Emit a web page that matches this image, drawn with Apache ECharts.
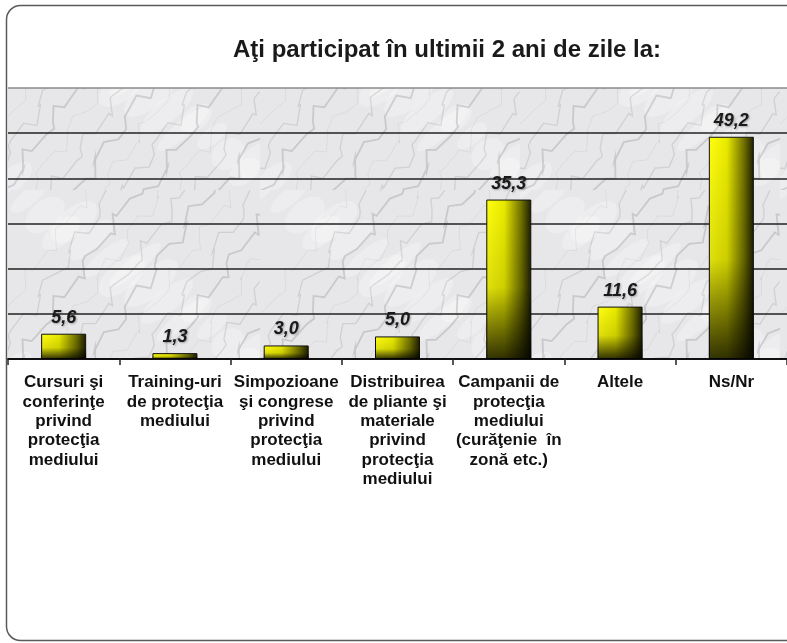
<!DOCTYPE html>
<html>
<head>
<meta charset="utf-8">
<script src="https://cdn.jsdelivr.net/npm/echarts@6/dist/echarts.min.js"></script>
<style>
  html, body { margin: 0; padding: 0; background: #fff; }
  #main { width: 787px; height: 643px; }
</style>
</head>
<body>
<div id="main"></div>
<script>
var titleText = 'Aţi participat în ultimii 2 ani de zile la:';
var categories = [
  'Cursuri şi\nconferinţe\nprivind\nprotecţia\nmediului',
  'Training-uri\nde protecţia\nmediului',
  'Simpozioane\nşi congrese\nprivind\nprotecţia\nmediului',
  'Distribuirea\nde pliante şi\nmateriale\nprivind\nprotecţia\nmediului',
  'Campanii de\nprotecţia\nmediului\n(curăţenie  în\nzonă etc.)',
  'Altele',
  'Ns/Nr'
];
var values = [5.6, 1.3, 3.0, 5.0, 35.3, 11.6, 49.2];

// marble-like texture for the plot background
function marble() {
  var c = document.createElement('canvas');
  c.width = 260; c.height = 190;
  var g = c.getContext('2d');
  g.fillStyle = '#e7e7e9';
  g.fillRect(0, 0, 260, 190);
  var i, k;
  for (i = 0; i < 18; i++) {
    g.fillStyle = 'rgba(255,255,255,0.28)';
    g.beginPath();
    g.ellipse((i * 61) % 260, (i * 43) % 190, 18 + (i % 4) * 5, 8 + (i % 3) * 3, -0.7, 0, Math.PI * 2);
    g.fill();
  }
  for (i = 0; i < 12; i++) {
    g.strokeStyle = 'rgba(105,105,115,' + (0.12 + (i % 3) * 0.06) + ')';
    g.lineWidth = 0.8 + (i % 3) * 0.5;
    g.beginPath();
    var x0 = i * 24 - 50, y0 = 200;
    g.moveTo(x0, y0);
    for (k = 1; k <= 24; k++) {
      var t = k / 24;
      g.lineTo(x0 + t * 150 + Math.sin(k * 1.3 + i * 2.1) * 7, y0 - t * 215 + Math.cos(k * 2.7 + i) * 6);
    }
    g.stroke();
  }
  return c;
}

var chart = echarts.init(document.getElementById('main'), null, { renderer: 'canvas' });
var option = {
  backgroundColor: '#ffffff',
  animation: false,
  title: {
    text: titleText,
    left: 228,
    top: 33,
    textStyle: {
      fontFamily: 'Liberation Sans, Arial, sans-serif',
      fontSize: 24,
      fontWeight: 'bold',
      color: '#1a1a1a'
    }
  },
  grid: {
    left: 8,
    top: 88,
    width: 788,
    bottom: 284,
    show: true,
    borderWidth: 0,
    backgroundColor: { image: marble(), repeat: 'repeat' }
  },
  xAxis: {
    type: 'category',
    data: categories,
    axisLine: { lineStyle: { color: '#111', width: 2 } },
    axisTick: { show: true, length: 6, lineStyle: { color: '#222', width: 1.5 } },
    axisLabel: {
      interval: 0,
      margin: 14,
      fontFamily: 'Liberation Sans, Arial, sans-serif',
      fontWeight: 'bold',
      fontSize: 17,
      lineHeight: 19.3,
      color: '#111'
    }
  },
  yAxis: {
    type: 'value',
    min: 0,
    max: 60,
    interval: 10,
    axisLine: { show: false },
    axisTick: { show: false },
    axisLabel: { show: false },
    splitLine: {
      lineStyle: {
        color: ['#222', '#222', '#222', '#222', '#222', '#222', '#8a8a8a'],
        width: 1.5
      }
    }
  },
  series: [{
    type: 'bar',
    data: values,
    barWidth: 45,
    itemStyle: {
      borderColor: '#111',
      borderWidth: 1,
      color: {
        type: 'linear', x: 0, y: 0, x2: 1, y2: 0,
        colorStops: [
          { offset: 0, color: '#ffff10' },
          { offset: 0.4, color: '#eaea00' },
          { offset: 0.78, color: '#707000' },
          { offset: 1, color: '#1c1c00' }
        ]
      }
    }
  }, {
    type: 'bar',
    data: values,
    barWidth: 45,
    barGap: '-100%',
    silent: true,
    itemStyle: {
      color: {
        type: 'linear', x: 0, y: 0, x2: 0, y2: 1,
        colorStops: [
          { offset: 0, color: 'rgba(0,0,0,0)' },
          { offset: 0.55, color: 'rgba(0,0,0,0.12)' },
          { offset: 1, color: 'rgba(0,0,0,0.8)' }
        ]
      }
    },
    label: {
      show: true,
      position: 'top',
      distance: 7,
      formatter: function (p) { return p.value.toFixed(1).replace('.', ','); },
      fontFamily: 'Liberation Sans, Arial, sans-serif',
      fontSize: 18,
      fontWeight: 'bold',
      fontStyle: 'italic',
      color: '#1a1a1a',
      textShadowColor: 'rgba(0,0,0,0.3)',
      textShadowBlur: 2,
      textShadowOffsetX: 1,
      textShadowOffsetY: 1
    }
  }],
  graphic: [{
    type: 'rect',
    z: 100,
    silent: true,
    shape: { x: 6.5, y: 5.5, width: 900, height: 635, r: 14 },
    style: { fill: 'none', stroke: '#5a5a5a', lineWidth: 1.5 }
  }]
};
chart.setOption(option);
</script>
</body>
</html>
